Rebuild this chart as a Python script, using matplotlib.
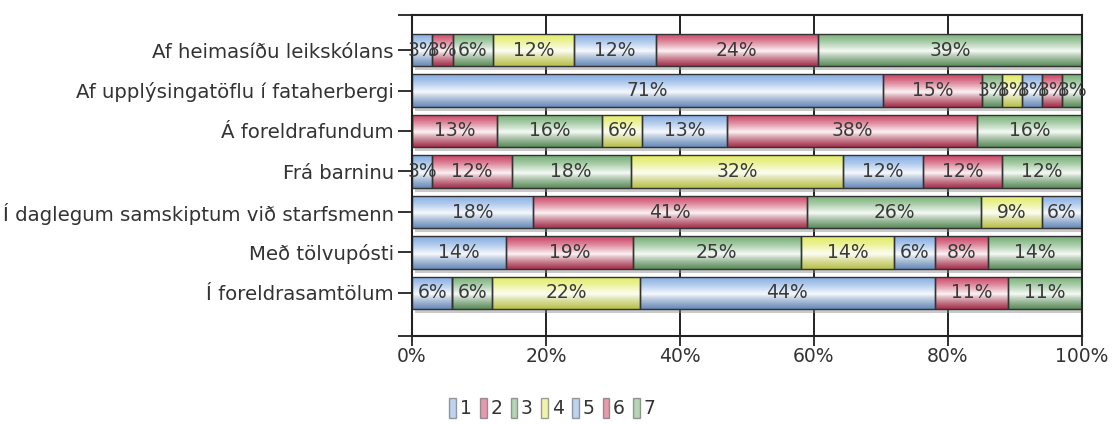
import numpy as np
import matplotlib
matplotlib.use("Agg")
import matplotlib.pyplot as plt
import matplotlib.patheffects as pe
from matplotlib.colors import to_rgb
from matplotlib.patches import Patch

plt.rcParams['font.family'] = ['DejaVu Sans']

categories = ["Af heimasíðu leikskólans",
              "Af upplýsingatöflu í fataherbergi",
              "Á foreldrafundum",
              "Frá barninu",
              "Í daglegum samskiptum við starfsmenn",
              "Með tölvupósti",
              "Í foreldrasamtölum"]
series_names = ["1", "2", "3", "4", "5", "6", "7"]
s1 = [3, 71, 0, 3, 18, 14, 6]
s2 = [3, 15, 13, 12, 41, 19, 0]
s3 = [6, 3, 16, 18, 26, 25, 6]
s4 = [12, 3, 6, 32, 9, 14, 22]
s5 = [12, 3, 13, 12, 6, 6, 44]
s6 = [24, 3, 38, 12, 0, 8, 11]
s7 = [39, 3, 16, 12, 0, 14, 11]
x_ticks = [0, 20, 40, 60, 80, 100]
x_tick_labels = ["0%", "20%", "40%", "60%", "80%", "100%"]

series = [s1, s2, s3, s4, s5, s6, s7]
base_colors = ["#7ea8e0", "#c83a5c", "#6eaa6e", "#e0ea5a",
               "#7ea8e0", "#c83a5c", "#6eaa6e"]

W, H = 1116, 425
fig = plt.figure(figsize=(W / 100, H / 100), dpi=100)
ax = fig.add_axes([412 / W, 1 - 336 / H, (1082 - 412) / W, (336 - 15) / H])

vals = np.array(series, dtype=float)  # (series, categories)
totals = vals.sum(axis=0)
shares = vals / totals * 100.0
ypos = np.arange(len(categories))
bar_h = 0.8
FS = 13.5
FS_Y = 14.2

def gradient(c):
    c = np.array(to_rgb(c))
    white = np.array([1, 1, 1])
    top = c * 0.92 + white * 0.08
    mid = c * 0.05 + white * 0.95
    bot = c * 0.82
    n = 64
    t = np.linspace(0, 1, n)
    img = np.zeros((n, 1, 3))
    for i, tt in enumerate(t):
        if tt < 0.55:
            f = (tt / 0.55) ** 1.3
            img[i, 0] = top * (1 - f) + mid * f
        else:
            f = ((tt - 0.55) / 0.45) ** 0.8
            img[i, 0] = mid * (1 - f) + bot * f
    return img

left = np.zeros(len(categories))
for k, sh in enumerate(shares):
    bars = ax.barh(ypos, sh, left=left, height=bar_h, color=base_colors[k],
                   edgecolor='none', zorder=2)
    img = gradient(base_colors[k])
    for p in bars:
        if p.get_width() <= 0:
            continue
        p.set_path_effects([pe.SimplePatchShadow(offset=(2, -3), shadow_rgbFace='#888888', alpha=0.45),
                            pe.Normal()])
        x0, y0, w, h = p.get_x(), p.get_y(), p.get_width(), p.get_height()
        im = ax.imshow(img, extent=[x0, x0 + w, y0 + h, y0], aspect='auto',
                       origin='upper', interpolation='bilinear', zorder=2.1)
        im.set_clip_path(p)
    ax.barh(ypos, sh, left=left, height=bar_h, fill=False,
            edgecolor='#333333', linewidth=1.0, zorder=2.2)
    cont = ax.barh(ypos, sh, left=left, height=bar_h, fill=False,
                   edgecolor='none', zorder=2.3)
    labels = [f"{int(v)}%" if v > 0 else "" for v in vals[k]]
    ax.bar_label(cont, labels=labels, label_type='center', color='#3a3a3a',
                 fontsize=FS, zorder=3)
    left = left + sh

ytop = -35 / 40.5
ybot = 6 + 43 / 40.5
ax.set_xlim(0, 100)
ax.set_ylim(ybot, ytop)
ax.set_xticks(x_ticks)
ax.set_xticklabels(x_tick_labels, fontsize=FS, color='#333333')
ax.set_yticks(ypos)
ax.set_yticklabels(categories, fontsize=FS_Y, color='#333333')
ax.set_yticks([ytop, ybot], minor=True)
ax.tick_params(axis='y', which='both', length=10, width=1.3, color='#222222', pad=3)
ax.tick_params(axis='x', length=7, width=1.3, color='#222222', pad=1)
ax.grid(axis='x', color='#111111', linewidth=1.3, zorder=0)
ax.set_axisbelow(True)
for s in ax.spines.values():
    s.set_color('#222222')
    s.set_linewidth(1.5)

handles = [Patch(facecolor=to_rgb(c), edgecolor='#444444', linewidth=1.0, alpha=0.5)
           for c in base_colors]
fig.legend(handles, series_names, loc='center', bbox_to_anchor=(0.495, 1 - 408 / H),
           ncol=7, frameon=False, fontsize=FS, handlelength=0.35, handleheight=1.25,
           handletextpad=0.2, columnspacing=0.45, labelcolor='#333333')

fig.savefig("out.png", dpi=100)
